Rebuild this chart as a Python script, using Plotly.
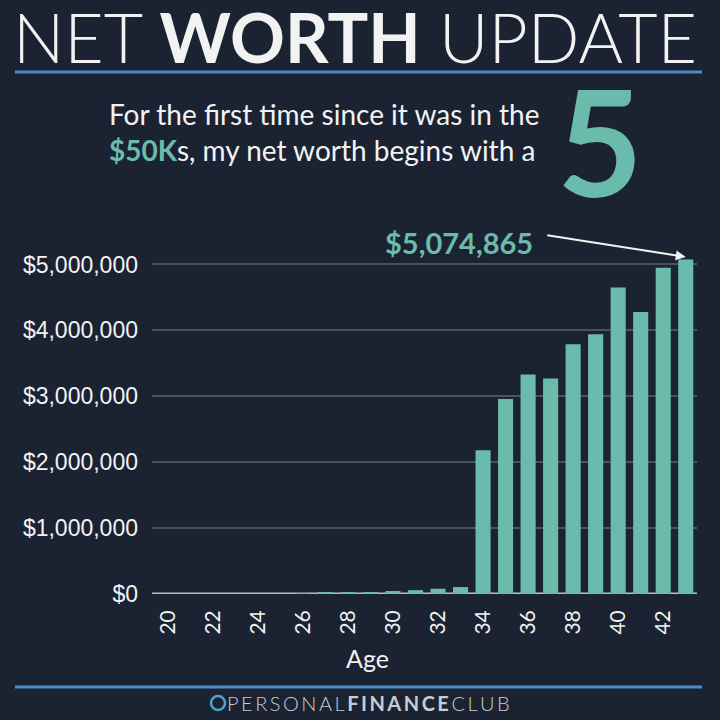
import plotly.graph_objects as go

ages = list(range(20, 44))
net_worth = [0, 0, 0, 0, 0, 0, 15000, 20000, 20000, 25000, 45000, 58000, 80000, 105000,
             2180000, 2960000, 3330000, 3270000, 3790000, 3940000, 4650000, 4280000, 4950000, 5074865]
y_ticks = [0, 1000000, 2000000, 3000000, 4000000, 5000000]
y_tick_labels = ["$0", "$1,000,000", "$2,000,000", "$3,000,000", "$4,000,000", "$5,000,000"]
x_ticks = list(range(20, 43, 2))

BG = "#1b2333"
TEAL = "#6bbbad"
WHITE = "#f2f2f2"

# plot area in pixels
L, R, T, B = 152, 697, 248, 594
W, H = 720, 720

def px(x):
    return (x - L) / (R - L)

def py(y):
    return (B - y) / (B - T)

fig = go.Figure()
fig.add_trace(go.Bar(x=ages, y=net_worth, marker=dict(color=TEAL, line=dict(width=0)),
                     hoverinfo="x+y"))

fig.update_layout(
    width=W, height=H,
    paper_bgcolor=BG, plot_bgcolor=BG,
    margin=dict(l=L, r=W - R, t=T, b=H - B, pad=0),
    bargap=0.33,
    showlegend=False,
    xaxis=dict(range=[19.3, 43.5], tickmode="array", tickvals=x_ticks,
               ticktext=[str(v) for v in x_ticks], tickangle=-90,
               tickfont=dict(family="Lato", size=21, color=WHITE),
               showgrid=False, zeroline=False, showline=False, ticks="",
               ticklabelstandoff=11),
    yaxis=dict(range=[0, 5250000], tickmode="array", tickvals=y_ticks, ticktext=y_tick_labels,
               tickfont=dict(family="Liberation Sans, Arial", size=23, color=WHITE),
               showgrid=True, gridcolor="#4a5262", gridwidth=1.5,
               zeroline=False, showline=False, ticks="", ticklabelstandoff=13),
)

# zero baseline
fig.add_shape(type="line", xref="paper", yref="y", x0=0, x1=1, y0=0, y1=0,
              line=dict(color="#b9bdc4", width=3), layer="below")

ann = []
# Title
ann.append(dict(x=px(355), y=py(36), xref="paper", yref="paper", showarrow=False,
                text="<span style='font-family:Lato Light,Lato;font-weight:300'>NET </span><b>WORTH</b><span style='font-family:Lato Light,Lato;font-weight:300'> UPDATE</span>",
                font=dict(family="Lato", size=68, color=WHITE), xanchor="center", yanchor="middle"))
# Subtitle
ann.append(dict(x=px(107), y=py(132), xref="paper", yref="paper", showarrow=False, align="left",
                text="For the first time since it was in the<br><span style='color:%s'><b>$50K</b></span>s, my net worth begins with a" % TEAL,
                font=dict(family="Lato", size=28, color=WHITE), xanchor="left", yanchor="middle"))
# Big 5
ann.append(dict(x=px(600), y=py(140), xref="paper", yref="paper", showarrow=False,
                text="<b>5</b>", font=dict(family="Lato", size=148, color=TEAL),
                xanchor="center", yanchor="middle"))
# Value label
ann.append(dict(x=px(459), y=py(242), xref="paper", yref="paper", showarrow=False,
                text="<b>$5,074,865</b>", font=dict(family="Lato", size=29, color=TEAL),
                xanchor="center", yanchor="middle"))
# Arrow
ann.append(dict(x=43, y=net_worth[-1] + 40000, xref="x", yref="y", showarrow=True,
                ax=-140, ay=-22, axref="pixel", ayref="pixel", arrowhead=2, arrowsize=1,
                arrowwidth=2, arrowcolor=WHITE, text=""))
# Age title
ann.append(dict(x=px(367), y=py(658), xref="paper", yref="paper", showarrow=False,
                text="Age", font=dict(family="Lato", size=25, color=WHITE),
                xanchor="center", yanchor="middle"))
# Footer
sp = "\u2009"
def spaced(s):
    return sp.join(list(s))
ann.append(dict(x=px(368), y=py(703), xref="paper", yref="paper", showarrow=False,
                text="<span style='font-family:Lato Light,Lato;font-weight:300'>" + spaced("PERSONAL") + sp + "</span><b>" + spaced("FINANCE") + "</b>" + sp + "<span style='font-family:Lato Light,Lato;font-weight:300'>" + spaced("CLUB") + "</span>",
                font=dict(family="Lato", size=20, color="#c9ccd2"), xanchor="center", yanchor="middle"))
fig.update_layout(annotations=ann)

# Logo circle
fig.add_shape(type="circle", xref="paper", yref="paper", x0=px(211), x1=px(225), y0=py(710), y1=py(696),
              line=dict(color="#4fa3c8", width=2.5), fillcolor=BG)
# Title and footer rules
fig.add_shape(type="line", xref="paper", yref="paper", x0=px(15), x1=px(702), y0=py(72), y1=py(72),
              line=dict(color="#4a90c4", width=3))
fig.add_shape(type="line", xref="paper", yref="paper", x0=px(15), x1=px(702), y0=py(687), y1=py(687),
              line=dict(color="#4a90c4", width=3))

fig.write_html("out.html", config={"displayModeBar": False},
               post_script="document.body.style.margin='0';document.body.style.background='%s';" % BG)
